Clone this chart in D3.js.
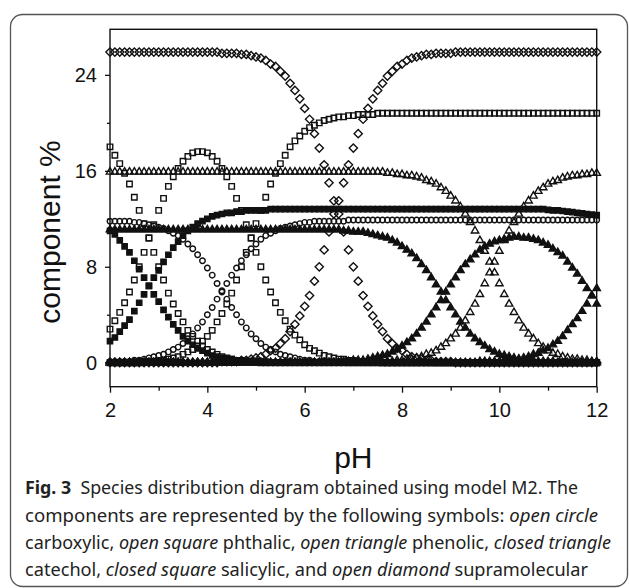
<!DOCTYPE html>
<html lang="en">
<head>
<meta charset="utf-8">
<script src="https://cdn.jsdelivr.net/npm/d3@7"></script>
<style>
  body { margin: 0; background: #fff; }
  .tick text { font-family: "Liberation Sans", Arial, sans-serif; font-size: 20px; fill: #111; }
  .tick line { stroke: #111; stroke-width: 1.3px; }
  .domain { display: none; }
  .axis-label { font-family: "Liberation Sans", Arial, sans-serif; font-size: 30px; fill: #111; }
  .caption { font-family: "Noto Sans", sans-serif; font-size: 18px; fill: #222; }
</style>
</head>
<body>
<svg width="629" height="588"></svg>
<script>
// sampling grid (pH)
const pH = [
  2.0,2.1,2.2,2.3,2.4,2.5,2.6,2.7,2.8,2.9, 3.0,3.1,3.2,3.3,3.4,3.5,3.6,3.7,3.8,3.9,
  4.0,4.1,4.2,4.3,4.4,4.5,4.6,4.7,4.8,4.9, 5.0,5.1,5.2,5.3,5.4,5.5,5.6,5.7,5.8,5.9,
  6.0,6.1,6.2,6.3,6.4,6.5,6.6,6.7,6.8,6.9, 7.0,7.1,7.2,7.3,7.4,7.5,7.6,7.7,7.8,7.9,
  8.0,8.1,8.2,8.3,8.4,8.5,8.6,8.7,8.8,8.9, 9.0,9.1,9.2,9.3,9.4,9.5,9.6,9.7,9.8,9.9,
  10.0,10.1,10.2,10.3,10.4,10.5,10.6,10.7,10.8,10.9, 11.0,11.1,11.2,11.3,11.4,11.5,11.6,11.7,11.8,11.9,
  12.0
];

// open circle - carboxylic
const carboxylicA = [
  11.8,11.8,11.8,11.8,11.8,11.7,11.7,11.6,11.5,11.4, 11.3,11.2,11.0,10.8,10.6,10.3,9.9,9.5,9.0,8.5,
  7.9,7.3,6.6,6.0,5.3,4.6,4.0,3.4,2.9,2.4, 2.0,1.6,1.3,1.1,0.9,0.7,0.6,0.5,0.4,0.3,
  0.2,0.2,0.1,0.1,0.1,0.1,0.1,0.1,0.1,0, 0,0,0,0,0,0,0,0,0,0,
  0,0,0,0,0,0,0,0,0,0, 0,0,0,0,0,0,0,0,0,0,
  0,0,0,0,0,0,0,0,0,0, 0,0,0,0,0,0,0,0,0,0,
  0
];
const carboxylicB = [
  0.1,0.1,0.1,0.1,0.1,0.2,0.2,0.3,0.4,0.5, 0.6,0.7,0.9,1.1,1.3,1.6,2.0,2.4,2.9,3.4,
  4.0,4.6,5.3,5.9,6.6,7.3,7.9,8.5,9.0,9.5, 9.9,10.3,10.6,10.8,11.0,11.2,11.3,11.4,11.5,11.6,
  11.7,11.7,11.8,11.8,11.8,11.8,11.8,11.8,11.8,11.9, 11.9,11.9,11.9,11.9,11.9,11.9,11.9,11.9,11.9,11.9,
  11.9,11.9,11.9,11.9,11.9,11.9,11.9,11.9,11.9,11.9, 11.9,11.9,11.9,11.9,11.9,11.9,11.9,11.9,11.9,11.9,
  11.9,11.9,11.9,11.9,11.9,11.9,11.9,11.9,11.9,11.9, 11.9,11.9,11.9,11.9,11.9,11.9,11.9,11.9,11.9,11.9,
  11.9
];

// open square - phthalic
const phthalicA = [
  18.0,17.3,16.6,15.8,14.9,13.8,12.7,11.6,10.4,9.2, 8.0,6.9,5.8,4.9,4.1,3.4,2.7,2.2,1.8,1.4,
  1.1,0.9,0.7,0.5,0.4,0.3,0.2,0.2,0.1,0.1, 0.1,0,0,0,0,0,0,0,0,0,
  0,0,0,0,0,0,0,0,0,0, 0,0,0,0,0,0,0,0,0,0,
  0,0,0,0,0,0,0,0,0,0, 0,0,0,0,0,0,0,0,0,0,
  0,0,0,0,0,0,0,0,0,0, 0,0,0,0,0,0,0,0,0,0,
  0
];
const phthalicB = [
  2.8,3.5,4.2,5.0,5.9,6.9,8.0,9.2,10.4,11.5, 12.7,13.7,14.7,15.5,16.2,16.8,17.2,17.5,17.6,17.6,
  17.5,17.2,16.8,16.2,15.5,14.7,13.7,12.7,11.5,10.4, 9.2,8.0,6.9,5.9,5.0,4.2,3.5,2.8,2.3,1.9,
  1.5,1.2,1.0,0.8,0.6,0.5,0.4,0.3,0.3,0.2, 0.2,0.1,0.1,0.1,0.1,0.1,0,0,0,0,
  0,0,0,0,0,0,0,0,0,0, 0,0,0,0,0,0,0,0,0,0,
  0,0,0,0,0,0,0,0,0,0, 0,0,0,0,0,0,0,0,0,0,
  0
];
const phthalicC = [
  0,0,0,0,0,0,0,0.1,0.1,0.1, 0.2,0.2,0.3,0.4,0.5,0.7,0.9,1.1,1.4,1.8,
  2.2,2.7,3.4,4.1,4.9,5.8,6.9,8.0,9.2,10.4, 11.6,12.7,13.8,14.9,15.8,16.6,17.3,18.0,18.5,18.9,
  19.3,19.6,19.8,20.0,20.2,20.3,20.4,20.5,20.5,20.6, 20.6,20.7,20.7,20.7,20.7,20.8,20.8,20.8,20.8,20.8,
  20.8,20.8,20.8,20.8,20.8,20.8,20.8,20.8,20.8,20.8, 20.8,20.8,20.8,20.8,20.8,20.8,20.8,20.8,20.8,20.8,
  20.8,20.8,20.8,20.8,20.8,20.8,20.8,20.8,20.8,20.8, 20.8,20.8,20.8,20.8,20.8,20.8,20.8,20.8,20.8,20.8,
  20.8
];

// open triangle - phenolic
const phenolicA = [
  15.9,15.9,15.9,15.9,15.9,15.9,15.9,15.9,15.9,15.9, 15.9,15.9,15.9,15.9,15.9,15.9,15.9,15.9,15.9,15.9,
  15.9,15.9,15.9,15.9,15.9,15.9,15.9,15.9,15.9,15.9, 15.9,15.9,15.9,15.9,15.9,15.9,15.9,15.9,15.9,15.9,
  15.9,15.9,15.9,15.9,15.9,15.9,15.9,15.9,15.9,15.9, 15.9,15.9,15.9,15.9,15.9,15.9,15.9,15.8,15.8,15.7,
  15.7,15.6,15.6,15.5,15.4,15.2,15.1,14.9,14.6,14.3, 13.9,13.5,13.0,12.4,11.7,11.0,10.2,9.3,8.4,7.5,
  6.6,5.7,4.9,4.2,3.5,2.9,2.4,2.0,1.6,1.3, 1.0,0.8,0.7,0.5,0.4,0.3,0.3,0.2,0.2,0.1,
  0.1
];
const phenolicB = [
  0,0,0,0,0,0,0,0,0,0, 0,0,0,0,0,0,0,0,0,0,
  0,0,0,0,0,0,0,0,0,0, 0,0,0,0,0,0,0,0,0,0,
  0,0,0,0,0,0,0,0,0,0, 0,0,0,0,0,0,0,0.1,0.1,0.2,
  0.2,0.3,0.3,0.4,0.5,0.7,0.8,1.0,1.3,1.6, 2.0,2.4,2.9,3.5,4.2,4.9,5.7,6.6,7.5,8.4,
  9.3,10.2,11.0,11.7,12.4,13.0,13.5,13.9,14.3,14.6, 14.9,15.1,15.2,15.4,15.5,15.6,15.6,15.7,15.7,15.8,
  15.8
];

// closed triangle - catechol
const catecholA = [
  11.1,11.1,11.1,11.1,11.1,11.1,11.1,11.1,11.1,11.1, 11.1,11.1,11.1,11.1,11.1,11.1,11.1,11.1,11.1,11.1,
  11.1,11.1,11.1,11.1,11.1,11.1,11.1,11.1,11.1,11.1, 11.1,11.1,11.1,11.1,11.1,11.1,11.1,11.1,11.1,11.1,
  11.1,11.1,11.1,11.1,11.1,11.1,11.1,11.1,11.0,11.0, 10.9,10.9,10.9,10.8,10.7,10.6,10.5,10.4,10.2,10.0,
  9.7,9.4,9.1,8.7,8.2,7.7,7.1,6.5,5.9,5.2, 4.6,4.0,3.4,2.9,2.4,2.0,1.7,1.4,1.1,0.9,
  0.7,0.6,0.5,0.4,0.3,0.2,0.2,0.2,0.1,0.1, 0.1,0.1,0,0,0,0,0,0,0,0,
  0
];
const catecholB = [
  0,0,0,0,0,0,0,0,0,0, 0,0,0,0,0,0,0,0,0,0,
  0,0,0,0,0,0,0,0,0,0, 0,0,0,0,0,0,0,0,0,0,
  0,0,0,0,0,0,0,0,0.1,0.1, 0.2,0.2,0.2,0.3,0.4,0.5,0.6,0.7,0.9,1.1,
  1.4,1.7,2.0,2.4,2.9,3.4,4.0,4.6,5.2,5.9, 6.5,7.1,7.7,8.2,8.6,9.0,9.4,9.7,9.9,10.1,
  10.2,10.3,10.4,10.5,10.5,10.4,10.4,10.3,10.2,10.0, 9.8,9.5,9.2,8.9,8.4,7.9,7.4,6.8,6.2,5.6,
  4.9
];
const catecholC = [
  0,0,0,0,0,0,0,0,0,0, 0,0,0,0,0,0,0,0,0,0,
  0,0,0,0,0,0,0,0,0,0, 0,0,0,0,0,0,0,0,0,0,
  0,0,0,0,0,0,0,0,0,0, 0,0,0,0,0,0,0,0,0,0,
  0,0,0,0,0,0,0,0,0,0, 0,0,0,0,0,0,0.1,0.1,0.1,0.1,
  0.1,0.2,0.2,0.3,0.3,0.4,0.5,0.7,0.8,1.0, 1.2,1.5,1.8,2.2,2.7,3.2,3.7,4.3,4.9,5.6,
  6.2
];

// closed square - salicylic
const salicylicA = [
  11.0,10.7,10.2,9.7,9.2,8.5,7.8,7.1,6.4,5.7, 5.1,4.4,3.8,3.2,2.7,2.2,1.8,1.5,1.2,1.0,
  0.8,0.6,0.5,0.4,0.3,0.3,0.2,0.2,0.1,0.1, 0.1,0.1,0.1,0,0,0,0,0,0,0,
  0,0,0,0,0,0,0,0,0,0, 0,0,0,0,0,0,0,0,0,0,
  0,0,0,0,0,0,0,0,0,0, 0,0,0,0,0,0,0,0,0,0,
  0,0,0,0,0,0,0,0,0,0, 0,0,0,0,0,0,0,0,0,0,
  0
];
const salicylicB = [
  1.8,2.1,2.6,3.1,3.6,4.3,5.0,5.7,6.4,7.1, 7.7,8.4,9.0,9.6,10.1,10.6,11.0,11.3,11.6,11.8,
  12.0,12.2,12.3,12.4,12.5,12.5,12.6,12.6,12.7,12.7, 12.7,12.7,12.7,12.8,12.8,12.8,12.8,12.8,12.8,12.8,
  12.8,12.8,12.8,12.8,12.8,12.8,12.8,12.8,12.8,12.8, 12.8,12.8,12.8,12.8,12.8,12.8,12.8,12.8,12.8,12.8,
  12.8,12.8,12.8,12.8,12.8,12.8,12.8,12.8,12.8,12.8, 12.8,12.8,12.8,12.8,12.8,12.8,12.8,12.8,12.8,12.8,
  12.8,12.8,12.8,12.8,12.8,12.8,12.8,12.8,12.8,12.8, 12.75,12.7,12.7,12.65,12.6,12.55,12.5,12.45,12.4,12.35,
  12.3
];

// open diamond - supramolecular
const supraComplex = [
  0,0,0,0,0,0,0,0,0,0, 0,0,0,0,0,0,0,0,0,0,
  0,0,0,0.1,0.1,0.1,0.1,0.2,0.2,0.3, 0.4,0.5,0.7,1.0,1.2,1.6,2.0,2.6,3.2,3.9,
  4.7,5.6,6.8,8.0,9.4,10.9,12.4,12.4,10.9,9.4, 8.0,6.8,5.6,4.7,3.9,3.2,2.6,2.0,1.6,1.2,
  1.0,0.7,0.5,0.4,0.3,0.2,0.2,0.1,0.1,0.1, 0.1,0,0,0,0,0,0,0,0,0,
  0,0,0,0,0,0,0,0,0,0, 0,0,0,0,0,0,0,0,0,0,
  0
];
const supraFree = [
  25.9,25.9,25.9,25.9,25.9,25.9,25.9,25.9,25.9,25.9, 25.9,25.9,25.9,25.9,25.9,25.9,25.9,25.9,25.9,25.9,
  25.9,25.9,25.9,25.8,25.8,25.8,25.8,25.7,25.7,25.6, 25.5,25.4,25.2,24.9,24.7,24.3,23.9,23.3,22.7,22.0,
  21.2,20.3,19.1,17.9,16.5,15.0,13.5,13.5,15.0,16.5, 17.9,19.1,20.3,21.2,22.0,22.7,23.3,23.9,24.3,24.7,
  24.9,25.2,25.4,25.5,25.6,25.7,25.7,25.8,25.8,25.8, 25.8,25.9,25.9,25.9,25.9,25.9,25.9,25.9,25.9,25.9,
  25.9,25.9,25.9,25.9,25.9,25.9,25.9,25.9,25.9,25.9, 25.9,25.9,25.9,25.9,25.9,25.9,25.9,25.9,25.9,25.9,
  25.9
];

const xTicks = [2, 4, 6, 8, 10, 12];
const xMinor = [3, 5, 7, 9, 11];
const yTicks = [0, 8, 16, 24];
const yMinor = [4, 12, 20];

const xLabel = 'pH';
const yLabel = 'component %';

const svg = d3.select('svg');
const plot = { left: 110, right: 596.7, top: 29.3, bottom: 386.7 };

svg.append('rect')
  .attr('x', 10.5).attr('y', 14.5)
  .attr('width', 617).attr('height', 572)
  .attr('rx', 12)
  .attr('fill', '#fff')
  .attr('stroke', '#555')
  .attr('stroke-width', 1.3);

const xScale = d3.scaleLinear().domain([2, 12]).range([plot.left, plot.right]);
const yScale = d3.scaleLinear().domain([-2, 27.8]).range([plot.bottom, plot.top]);

// diamond drawn as a square turned 45 degrees
const symbolRhomb = {
  draw(ctx, size) {
    const r = Math.sqrt(size / 2);
    ctx.moveTo(0, -r); ctx.lineTo(r, 0); ctx.lineTo(0, r); ctx.lineTo(-r, 0); ctx.closePath();
  }
};

const series = [
  { values: carboxylicA, type: d3.symbolCircle, size: 24, filled: false },
  { values: carboxylicB, type: d3.symbolCircle, size: 24, filled: false },
  { values: phthalicA, type: d3.symbolSquare, size: 30, filled: false },
  { values: phthalicB, type: d3.symbolSquare, size: 30, filled: false },
  { values: phthalicC, type: d3.symbolSquare, size: 30, filled: false },
  { values: phenolicA, type: d3.symbolTriangle, size: 24, filled: false },
  { values: phenolicB, type: d3.symbolTriangle, size: 24, filled: false },
  { values: catecholA, type: d3.symbolTriangle, size: 24, filled: true },
  { values: catecholB, type: d3.symbolTriangle, size: 24, filled: true },
  { values: catecholC, type: d3.symbolTriangle, size: 24, filled: true },
  { values: salicylicA, type: d3.symbolSquare, size: 28, filled: true },
  { values: salicylicB, type: d3.symbolSquare, size: 28, filled: true },
  { values: supraComplex, type: symbolRhomb, size: 34, filled: false },
  { values: supraFree, type: symbolRhomb, size: 34, filled: false }
];

const marks = svg.append('g');
series.forEach(s => {
  const sym = d3.symbol().type(s.type).size(s.size);
  marks.append('g').selectAll('path')
    .data(pH.map((x, i) => ({ x, y: s.values[i] })))
    .enter().append('path')
      .attr('transform', d => `translate(${xScale(d.x)},${yScale(d.y)})`)
      .attr('d', sym)
      .attr('fill', s.filled ? '#111' : 'none')
      .attr('stroke', '#111')
      .attr('stroke-width', 1.4);
});

// frame
svg.append('rect')
  .attr('x', plot.left).attr('y', plot.top)
  .attr('width', plot.right - plot.left).attr('height', plot.bottom - plot.top)
  .attr('fill', 'none')
  .attr('stroke', '#111')
  .attr('stroke-width', 1.4);

const xAxisG = svg.append('g').attr('transform', `translate(0,${plot.bottom})`);
xAxisG.call(d3.axisBottom(xScale).tickValues(xTicks).tickSize(6).tickPadding(10).tickFormat(d3.format('d')));
svg.append('g').attr('transform', `translate(0,${plot.bottom})`)
  .call(d3.axisBottom(xScale).tickValues(xMinor).tickSize(4).tickFormat(''));

const yAxisG = svg.append('g').attr('transform', `translate(${plot.left},0)`);
yAxisG.call(d3.axisLeft(yScale).tickValues(yTicks).tickSize(5).tickPadding(8).tickFormat(d3.format('d')));
svg.append('g').attr('transform', `translate(${plot.left},0)`)
  .call(d3.axisLeft(yScale).tickValues(yMinor).tickSize(3).tickFormat(''));

svg.append('text')
  .attr('class', 'axis-label')
  .attr('x', (plot.left + plot.right) / 2)
  .attr('y', 468)
  .attr('text-anchor', 'middle')
  .text(xLabel);

svg.append('text')
  .attr('class', 'axis-label')
  .attr('transform', 'translate(60,232) rotate(-90)')
  .attr('text-anchor', 'middle')
  .text(yLabel);

// caption
const caption = [
  { y: 494, len: 553, parts: [['Fig. 3', 'b'], ['  Species distribution diagram obtained using model M2. The', '']] },
  { y: 522, len: 573, parts: [['components are represented by the following symbols: ', ''], ['open circle', 'i']] },
  { y: 549, len: 586, parts: [['carboxylic, ', ''], ['open square', 'i'], [' phthalic, ', ''], ['open triangle', 'i'], [' phenolic, ', ''], ['closed triangle', 'i']] },
  { y: 576, len: 563, parts: [['catechol, ', ''], ['closed square', 'i'], [' salicylic, and ', ''], ['open diamond', 'i'], [' supramolecular', '']] }
];
caption.forEach(line => {
  const t = svg.append('text')
    .attr('class', 'caption')
    .attr('x', 25).attr('y', line.y)
    .attr('textLength', line.len)
    .attr('lengthAdjust', 'spacingAndGlyphs')
    .attr('xml:space', 'preserve')
    .style('white-space', 'pre');
  line.parts.forEach(([txt, st]) => {
    t.append('tspan')
      .attr('font-weight', st === 'b' ? 'bold' : null)
      .attr('font-style', st === 'i' ? 'italic' : null)
      .text(txt);
  });
});
</script>
</body>
</html>
